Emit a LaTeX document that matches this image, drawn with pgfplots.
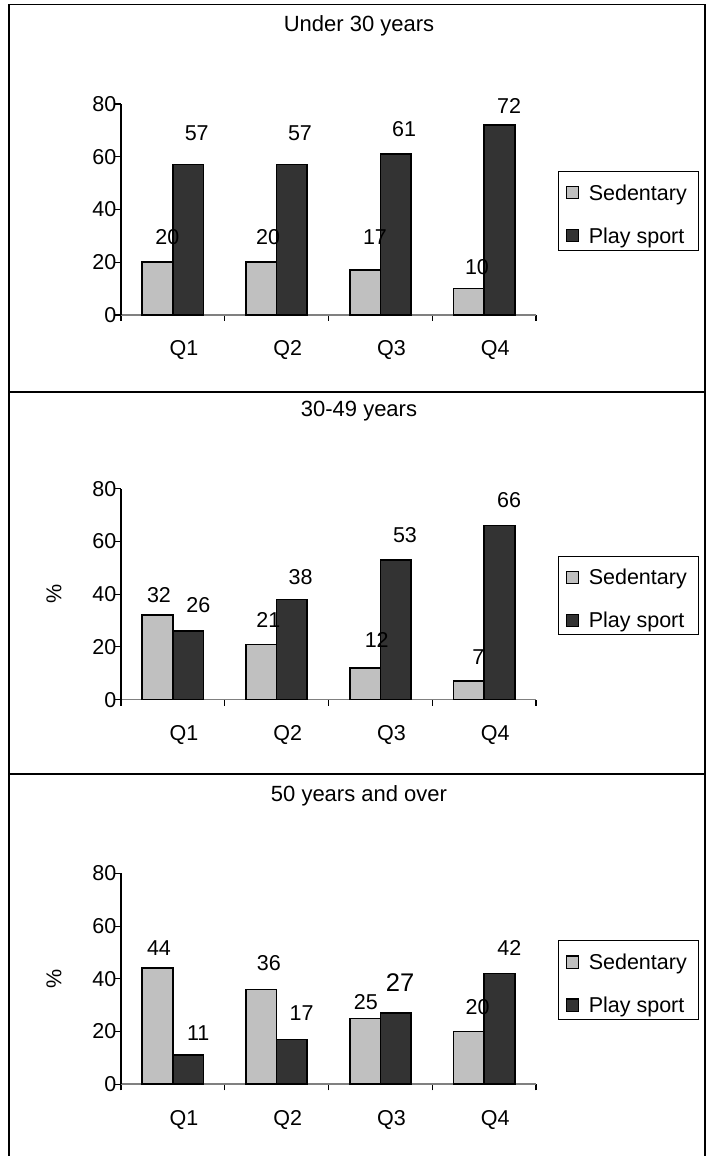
\documentclass[border=0pt]{standalone}
\usepackage{fontspec}
\setmainfont{Liberation Sans}
\usepackage{pgfplots}
\pgfplotsset{compat=1.18}
\definecolor{sedgray}{HTML}{C0C0C0}
\definecolor{playgray}{HTML}{333333}
\definecolor{axisgray}{HTML}{808080}
\newcommand{\fs}{\fontsize{21.5bp}{25bp}\selectfont}
\pgfplotsset{
  panel/.style={
    width=415bp, height=211bp, scale only axis,
    anchor=south west, clip=false,
    xmin=0.5, xmax=4.5, ymin=0, ymax=80,
    ytick={0,20,40,60,80},
    xtick={0.5,1.5,2.5,3.5,4.5},
    xticklabels={Q1,Q2,Q3,Q4,},
    axis x line*=bottom, axis y line*=left,
    axis line style={-},
    x axis line style={draw=axisgray, line width=1.6bp},
    y axis line style={draw=black, line width=1.1bp},
    tick align=outside, major tick length=6bp,
    tick style={black, line width=1.1bp},
    /pgf/number format/assume math mode=true,
    tick label style={font=\fs},
    yticklabel style={anchor=east, inner sep=0pt, xshift=1.5bp},
    xticklabel style={anchor=base, inner sep=0pt, xshift=62.9bp, yshift=-35bp},
    title style={font=\fontsize{22bp}{26bp}\selectfont, at={(axis description cs:0.5735,1.340)}, anchor=center},
    every axis y label/.style={at={(axis description cs:-0.1614,0.5)}, rotate=90, anchor=center, font=\fs},
    ybar=0pt, bar width=0.295,
    legend style={at={(rel axis cs:1.0537,0.6825)}, anchor=north west, draw=black, line width=1bp, fill=white,
      inner xsep=7bp, inner ysep=3bp, font=\fs, row sep=13.4bp,
      nodes={inner sep=0pt, text height=25.6bp, text depth=4bp}},
    legend cell align=left,
  },
  sed/.style={fill=sedgray, draw=black, line width=1.6bp,
    legend image code/.code={\draw[fill=sedgray, draw=black, line width=1.2bp] (0bp,-9.5bp) rectangle (12bp,2.5bp); \path (21.6bp,0bp);}},
  play/.style={fill=playgray, draw=black, line width=1.6bp,
    legend image code/.code={\draw[fill=playgray, draw=black, line width=1.2bp] (0bp,-9.5bp) rectangle (12bp,2.5bp); \path (21.6bp,0bp);}},
}
\begin{document}
\begin{tikzpicture}
\useasboundingbox (0,0) rectangle (706bp,1156bp);
\fill[white] (0,0) rectangle (706bp,1156bp);

% Panel 1
\begin{axis}[panel, at={(121bp,841bp)}, title={Under 30 years}]
\addplot[sed] coordinates {(1,20) (2,20) (3,17) (4,10)};
\addplot[play] coordinates {(1,57) (2,57) (3,61) (4,72)};
\addlegendentry{\mbox{Sedentary\kern4.5bp}}
\addlegendentry{Play sport}
\node[font=\fs] at (axis cs:0.946,29.4) {20};
\node[font=\fs] at (axis cs:1.230,68.9) {57};
\node[font=\fs] at (axis cs:1.917,29.4) {20};
\node[font=\fs] at (axis cs:2.225,68.9) {57};
\node[font=\fs] at (axis cs:2.948,29.5) {17};
\node[font=\fs] at (axis cs:3.228,70.6) {61};
\node[font=\fs] at (axis cs:3.931,18.2) {10};
\node[font=\fs] at (axis cs:4.240,79.2) {72};
\end{axis}

% Panel 2
\begin{axis}[panel, at={(121bp,456.3bp)}, title={30-49 years}, ylabel={\%}]
\addplot[sed] coordinates {(1,32) (2,21) (3,12) (4,7)};
\addplot[play] coordinates {(1,26) (2,38) (3,53) (4,66)};
\addlegendentry{\mbox{Sedentary\kern4.5bp}}
\addlegendentry{Play sport}
\node[font=\fs] at (axis cs:0.866,39.7) {32};
\node[font=\fs] at (axis cs:1.245,35.9) {26};
\node[font=\fs] at (axis cs:1.920,30.2) {21};
\node[font=\fs] at (axis cs:2.232,46.6) {38};
\node[font=\fs] at (axis cs:2.965,22.6) {12};
\node[font=\fs] at (axis cs:3.237,62.4) {53};
\node[font=\fs] at (axis cs:3.944,16.3) {7};
\node[font=\fs] at (axis cs:4.240,75.6) {66};
\end{axis}

% Panel 3
\begin{axis}[panel, at={(121bp,71.7bp)}, title={50 years and over}, ylabel={\%}]
\addplot[sed] coordinates {(1,44) (2,36) (3,25) (4,20)};
\addplot[play] coordinates {(1,11) (2,17) (3,27) (4,42)};
\addlegendentry{\mbox{Sedentary\kern4.5bp}}
\addlegendentry{Play sport}
\node[font=\fs] at (axis cs:0.866,51.5) {44};
\node[font=\fs] at (axis cs:1.245,19.3) {11};
\node[font=\fs] at (axis cs:1.926,45.8) {36};
\node[font=\fs] at (axis cs:2.240,26.9) {17};
\node[font=\fs] at (axis cs:2.860,31.3) {25};
\node[font=\fontsize{25.5bp}{30bp}\selectfont] at (axis cs:3.190,38.4) {27};
\node[font=\fs] at (axis cs:3.938,29.2) {20};
\node[font=\fs] at (axis cs:4.243,51.5) {42};
\end{axis}

% Panel borders
\draw[black, line width=1.6bp] (9bp,0bp) -- (9bp,1151.3bp) -- (705bp,1151.3bp) -- (705bp,0bp);
\draw[black, line width=1.6bp] (9bp,763.7bp) -- (705bp,763.7bp);
\draw[black, line width=1.6bp] (9bp,382bp) -- (705bp,382bp);
\end{tikzpicture}
\end{document}
